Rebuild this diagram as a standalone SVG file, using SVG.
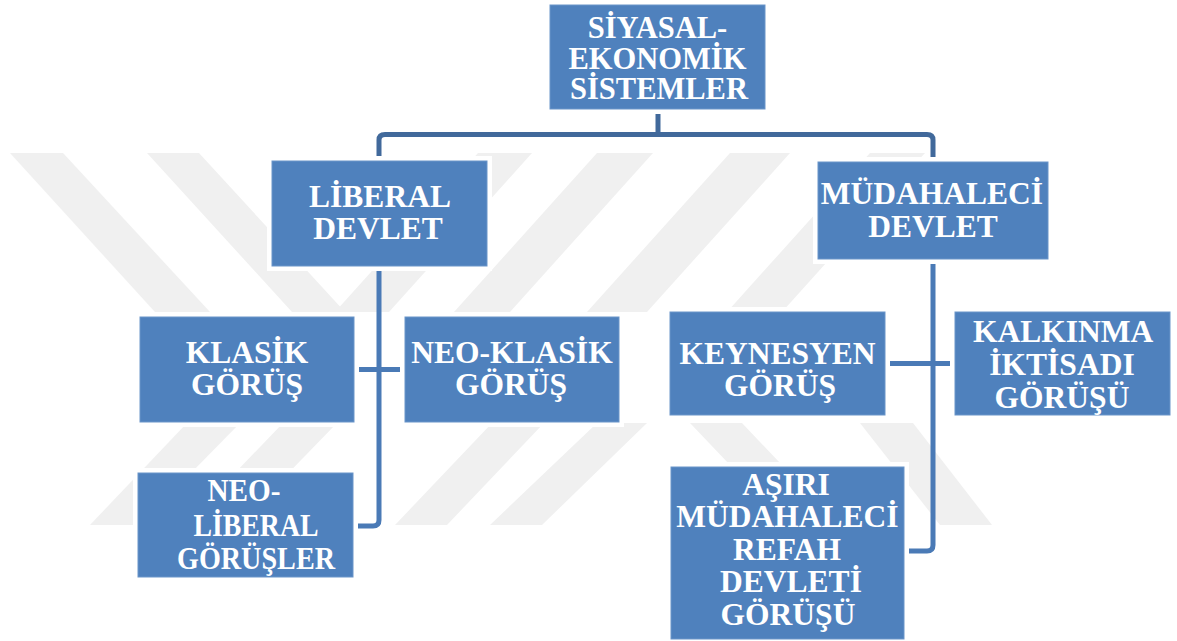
<svg xmlns="http://www.w3.org/2000/svg" width="1177" height="641" viewBox="0 0 1177 641">
<style>
.wm{fill:#f0f0f0}
.halo{fill:#ffffff}
.box{fill:#4f81bd;stroke:#6a95c9;stroke-width:1}
.t{font-family:"Liberation Serif","Times New Roman",serif;font-weight:bold;font-size:31.5px;fill:#ffffff;text-anchor:middle}
.tr{font-size:30.5px}
.c1{fill:none;stroke:#41699b;stroke-width:5}
.c2{fill:none;stroke:#4a7ab6;stroke-width:5}
</style>
<rect width="1177" height="641" fill="#ffffff"/>
<g id="watermark">
<polygon class="wm" points="10,153 63,153 210,312 155,312"/>
<polygon class="wm" points="147,153 199,153 345,312 292,312"/>
<polygon class="wm" points="478,153 532,153 389,312 335,312"/>
<polygon class="wm" points="597,153 653,153 510,312 454,312"/>
<polygon class="wm" points="730,153 790,153 647,312 587,312"/>
<polygon class="wm" points="870,153 925,153 782,312 727,312"/>
<polygon class="wm" points="90,525 140,525 240,423 187,423"/>
<polygon class="wm" points="185,525 238,525 337,423 283,423"/>
<polygon class="wm" points="395,525 447,525 544,423 492,423"/>
<polygon class="wm" points="490,525 542,525 647,423 597,423"/>
<polygon class="wm" points="690,423 742,423 839,525 787,525"/>
<polygon class="wm" points="860,423 913,423 992,525 940,525"/>
</g>
<g id="connectors">
<path class="c1" d="M658,109 V134"/>
<path class="c1" d="M379,158 V140 Q379,134.5 385,134.5 H927 Q933,134.5 933,140 V158"/>
<path class="c2" d="M379,266 V520 Q379,526 373,526 H356"/>
<path class="c2" d="M356,369.5 H402"/>
<path class="c2" d="M933,259 V545 Q933,551 927,551 H904"/>
<path class="c2" d="M887,363.5 H953"/>
</g>
<g id="n-root">
<rect class="halo" x="545" y="0" width="225" height="114"/>
<rect class="box" x="550" y="5" width="215" height="104"/>
<text class="t tr" x="657.5" y="38">SİYASAL-</text>
<text class="t tr" x="657.5" y="68.5">EKONOMİK</text>
<text class="t tr" x="659" y="99">SİSTEMLER</text>
</g>
<g id="n-liberal">
<rect class="halo" x="267" y="156" width="225" height="115"/>
<rect class="box" x="272" y="161" width="215" height="105"/>
<text class="t" x="380" y="207">LİBERAL</text>
<text class="t" x="378" y="239">DEVLET</text>
</g>
<g id="n-mudahaleci">
<rect class="halo" x="813" y="157" width="240" height="107"/>
<rect class="box" x="818" y="162" width="230" height="97"/>
<text class="t" x="932" y="204">MÜDAHALECİ</text>
<text class="t" x="933" y="237">DEVLET</text>
</g>
<g id="n-klasik">
<rect class="halo" x="135" y="312" width="224" height="115"/>
<rect class="box" x="140" y="317" width="214" height="105"/>
<text class="t" x="247" y="363">KLASİK</text>
<text class="t" x="247" y="395">GÖRÜŞ</text>
</g>
<g id="n-neoklasik">
<rect class="halo" x="400" y="312" width="224" height="115"/>
<rect class="box" x="405" y="317" width="214" height="105"/>
<text class="t" x="512" y="363">NEO-KLASİK</text>
<text class="t" x="511" y="395">GÖRÜŞ</text>
</g>
<g id="n-neoliberal">
<rect class="halo" x="133" y="468" width="225" height="114"/>
<rect class="box" x="138" y="473" width="215" height="104"/>
<text class="t" x="244" y="501" textLength="73" lengthAdjust="spacingAndGlyphs">NEO-</text>
<text class="t" x="256" y="536" textLength="125" lengthAdjust="spacingAndGlyphs">LİBERAL</text>
<text class="t" x="256" y="569" textLength="158" lengthAdjust="spacingAndGlyphs">GÖRÜŞLER</text>
</g>
<g id="n-keynesyen">
<rect class="halo" x="665" y="307" width="225" height="113"/>
<rect class="box" x="670" y="312" width="215" height="103"/>
<text class="t" x="777.5" y="364">KEYNESYEN</text>
<text class="t" x="780" y="396">GÖRÜŞ</text>
</g>
<g id="n-kalkinma">
<rect class="halo" x="950" y="307" width="225" height="113"/>
<rect class="box" x="955" y="312" width="215" height="103"/>
<text class="t" x="1063" y="342">KALKINMA</text>
<text class="t" x="1062" y="375">İKTİSADI</text>
<text class="t" x="1062" y="408">GÖRÜŞÜ</text>
</g>
<g id="n-asiri">
<rect class="halo" x="666" y="462" width="243" height="179"/>
<rect class="box" x="671" y="467" width="233" height="172"/>
<text class="t" x="786" y="495">AŞIRI</text>
<text class="t" x="787.5" y="527">MÜDAHALECİ</text>
<text class="t" x="787" y="560">REFAH</text>
<text class="t" x="791" y="592">DEVLETİ</text>
<text class="t" x="788" y="625">GÖRÜŞÜ</text>
</g>
</svg>
